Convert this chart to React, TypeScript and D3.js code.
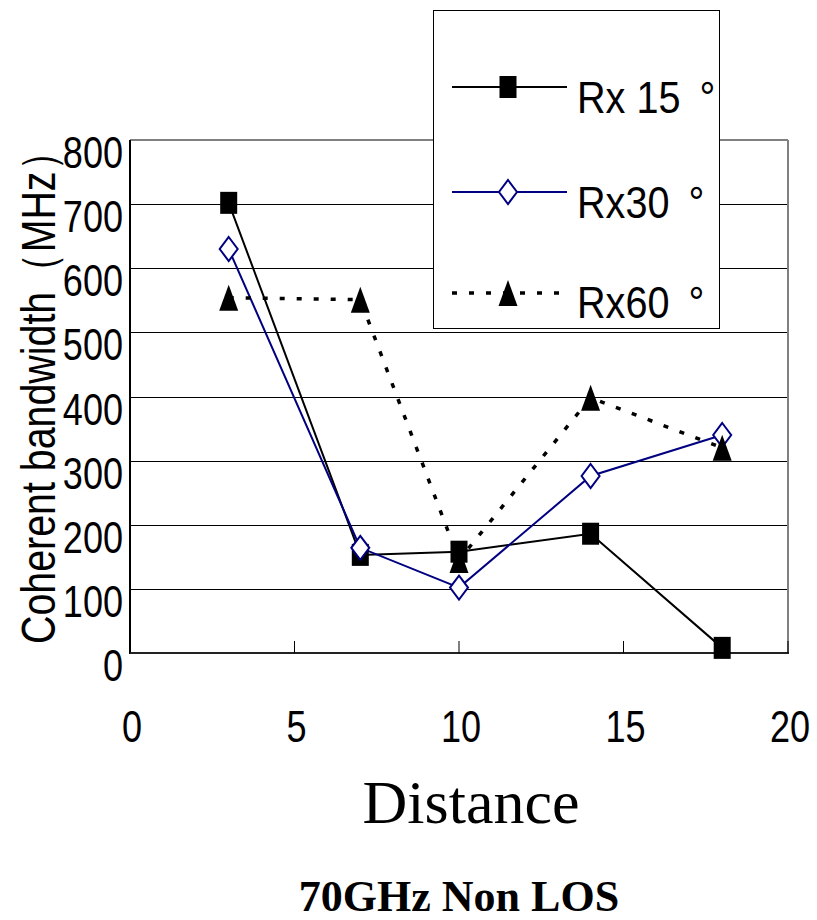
import React from "react";
import * as d3 from "d3";

const xTicks = [0, 5, 10, 15, 20];
const yTicks = [0, 100, 200, 300, 400, 500, 600, 700, 800];
const distances = [3, 7, 10, 14, 18];
const rx15 = [702, 153, 158, 186, 8];
const rx30 = [630, 164, 102, 276, 340];
const rx60 = [554, 551, 145, 398, 320];
const seriesNames = ["Rx 15 °", "Rx30 °", "Rx60 °"];

const W = 817;
const H = 920;
const L = 130, R = 788, T = 140, B = 653;
const SANS = "'Liberation Sans', Arial, sans-serif";
const SERIF = "'Liberation Serif', 'Times New Roman', serif";

function NText({ x, y, anchor, children, rotate, size, sx }: { x: number; y: number; anchor?: string; children: React.ReactNode; rotate?: number; size?: number; sx?: number }) {
  return (
    <text
      transform={`translate(${x},${y})${rotate ? ` rotate(${rotate})` : ""} scale(${sx || 0.82},1)`}
      textAnchor={anchor || "start"}
      fontFamily={SANS}
      fontSize={size || 44}
    >
      {children}
    </text>
  );
}

function Marker({ kind, x, y }: { kind: number; x: number; y: number }) {
  if (kind === 0) return <rect x={x - 8.5} y={y - 11} width={17} height={22} fill="#000" />;
  if (kind === 1)
    return (
      <path
        d={`M${x},${y - 12}L${x + 9},${y}L${x},${y + 12}L${x - 9},${y}Z`}
        fill="#fff"
        stroke="#000080"
        strokeWidth={2}
      />
    );
  return <path d={`M${x},${y - 13}L${x + 9.5},${y + 13}L${x - 9.5},${y + 13}Z`} fill="#000" />;
}

export default function App() {
  const x = d3.scaleLinear().domain([0, 20]).range([L, R]);
  const y = d3.scaleLinear().domain([0, 800]).range([B, T]);
  const series = [rx15, rx30, rx60];
  const colors = ["#000", "#000080", "#000"];
  const line = d3
    .line<number>()
    .x((_, i) => x(distances[i]))
    .y((d) => y(d));
  const legendY = [87, 192, 293];
  const legendTextY = [113, 218, 318];

  return (
    <svg width={W} height={H} style={{ position: "absolute", left: 0, top: 0, background: "#fff" }}>
      <rect x={0} y={0} width={W} height={H} fill="#fff" />
      {/* gridlines */}
      {yTicks.slice(1, -1).map((t) => (
        <line key={t} x1={L} x2={R} y1={Math.round(y(t)) + 0.5} y2={Math.round(y(t)) + 0.5} stroke="#000" strokeWidth={1} />
      ))}
      {/* frame */}
      <line x1={L} x2={R} y1={T} y2={T} stroke="#808080" strokeWidth={2} />
      <line x1={R} x2={R} y1={T} y2={B} stroke="#808080" strokeWidth={2} />
      <line x1={L} x2={L} y1={T} y2={B + 1} stroke="#000" strokeWidth={2} />
      <line x1={L} x2={R + 1} y1={B} y2={B} stroke="#222" strokeWidth={2} />
      {xTicks.map((t) => (
        <line key={t} x1={x(t)} x2={x(t)} y1={B} y2={B - 12} stroke="#000" strokeWidth={1} />
      ))}
      {/* tick labels */}
      {yTicks.map((t) => (
        <NText key={t} x={123} y={y(t) + 28} anchor="end">
          {t}
        </NText>
      ))}
      {xTicks.map((t) => (
        <NText key={t} x={x(t) + 2} y={742} anchor="middle">
          {t}
        </NText>
      ))}
      {/* axis titles */}
      <NText x={55} y={388} anchor="middle" rotate={-90} size={48}>
        Coherent bandwidth（MHz）
      </NText>
      <text x={471} y={823} textAnchor="middle" fontFamily={SERIF} fontSize={62}>
        Distance
      </text>
      <text x={459} y={911} textAnchor="middle" fontFamily={SERIF} fontSize={44} fontWeight="bold">
        70GHz Non LOS
      </text>
      {/* series lines */}
      {series.map((s, i) => (
        <path
          key={i}
          d={line(s) || ""}
          fill="none"
          stroke={colors[i]}
          strokeWidth={i === 2 ? 3.5 : 2}
          strokeDasharray={i === 2 ? "5 12" : undefined}
        />
      ))}
      {series.map((s, i) =>
        s.map((v, j) => <Marker key={`${i}-${j}`} kind={i} x={x(distances[j])} y={y(v)} />)
      )}
      {/* legend */}
      <rect x={433.5} y={10.5} width={286} height={318} fill="#fff" stroke="#000" strokeWidth={1} />
      {seriesNames.map((n, i) => (
        <g key={n}>
          <line
            x1={452}
            x2={567}
            y1={legendY[i]}
            y2={legendY[i]}
            stroke={colors[i]}
            strokeWidth={i === 2 ? 3.5 : 2}
            strokeDasharray={i === 2 ? "5 12" : undefined}
          />
          <Marker kind={i} x={508} y={legendY[i]} />
          <NText x={577} y={legendTextY[i]} sx={0.9}>
            {n.slice(0, -1)}
            <tspan dx={9}>{n.slice(-1)}</tspan>
          </NText>
        </g>
      ))}
    </svg>
  );
}
